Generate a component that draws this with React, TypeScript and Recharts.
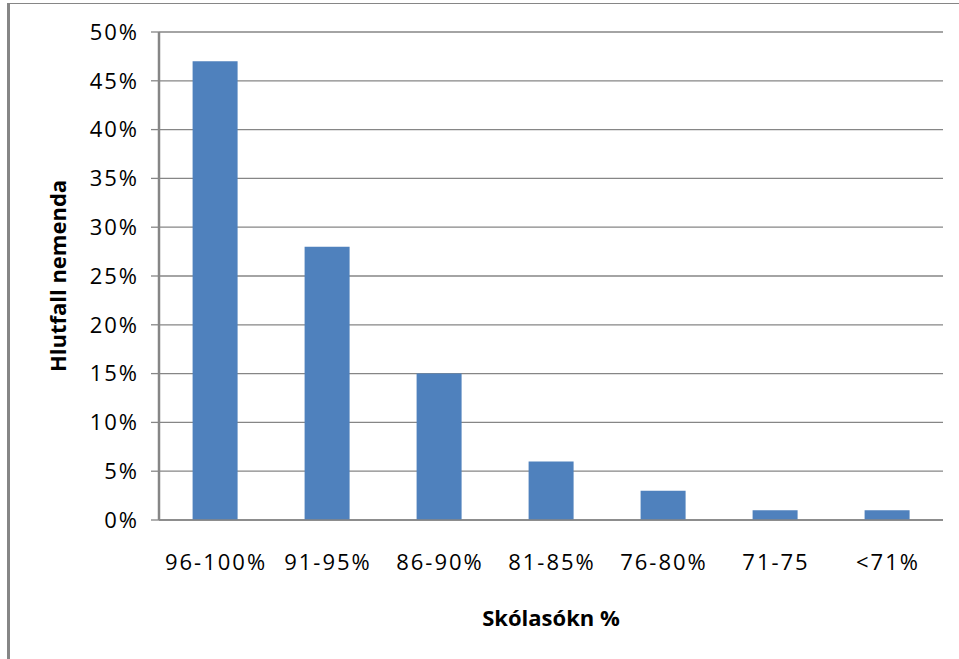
import { Bar, BarChart, CartesianGrid, Label, XAxis, YAxis } from "recharts";

// ─── Gögn ─────────────────────────────────────────────────────────────────────
const categories = ["96-100%", "91-95%", "86-90%", "81-85%", "76-80%", "71-75", "<71%"];
const shares = [47, 28, 15, 6, 3, 1, 1];
const yTicks = [0, 5, 10, 15, 20, 25, 30, 35, 40, 45, 50];

const data = categories.map((name, i) => ({ name, value: shares[i] }));

const GRID = "#868686";
const BAR = "#4F81BD";
const FONT = "'Open Sans', sans-serif";

// ─── Ás-merki með bili milli stafa ────────────────────────────────────────────
function XTick({ x, y, payload }: any) {
  return (
    <text
      x={x + 1}
      y={y}
      dy="0.71em"
      textAnchor="middle"
      fill="#000"
      style={{ fontSize: 22, fontFamily: FONT, letterSpacing: "2px" }}
    >
      {payload.value}
    </text>
  );
}

function YTick({ x, y, payload }: any) {
  return (
    <text
      x={x + 2}
      y={y}
      dy="0.355em"
      textAnchor="end"
      fill="#000"
      style={{ fontSize: 22, fontFamily: FONT, letterSpacing: "2px" }}
    >
      {`${payload.value}%`}
    </text>
  );
}

export default function App() {
  return (
    <div style={{ position: "absolute", left: 0, top: 0, width: 959, height: 659, background: "#fff" }}>
      {/* ── ramminn ── */}
      <div
        style={{
          position: "absolute",
          left: 7,
          top: 3,
          width: 952,
          height: 656,
          borderLeft: `3px solid ${GRID}`,
          borderTop: `1px solid ${GRID}`,
          boxSizing: "border-box",
        }}
      />
      <div style={{ position: "absolute", left: 0, top: 0 }}>
        <BarChart
          width={959}
          height={659}
          data={data}
          margin={{ top: 32, right: 16, bottom: 0, left: 0 }}
          barCategoryGap="30%"
        >
          <CartesianGrid vertical={false} stroke={GRID} strokeWidth={1.3} />
          <XAxis
            dataKey="name"
            height={139}
            axisLine={{ stroke: GRID, strokeWidth: 1.3 }}
            tickLine={false}
            tickMargin={28}
            tick={<XTick />}
          >
            <Label
              value="Skólasókn %"
              position="insideBottom"
              offset={33}
              style={{ fill: "#000", fontSize: 22, fontWeight: 700, fontFamily: FONT }}
            />
          </XAxis>
          <YAxis
            width={159}
            domain={[0, 50]}
            ticks={yTicks}
            interval={0}
            axisLine={{ stroke: GRID, strokeWidth: 2.5 }}
            tickLine={{ stroke: GRID, strokeWidth: 1.3 }}
            tickSize={8}
            tickMargin={14}
            tick={<YTick />}
          >
            <Label
              value="Hlutfall nemenda"
              angle={-90}
              position="insideLeft"
              offset={58}
              style={{ textAnchor: "middle", fill: "#000", fontSize: 22, fontWeight: 700, fontFamily: FONT }}
            />
          </YAxis>
          <Bar dataKey="value" fill={BAR} isAnimationActive={false} />
        </BarChart>
      </div>
    </div>
  );
}
